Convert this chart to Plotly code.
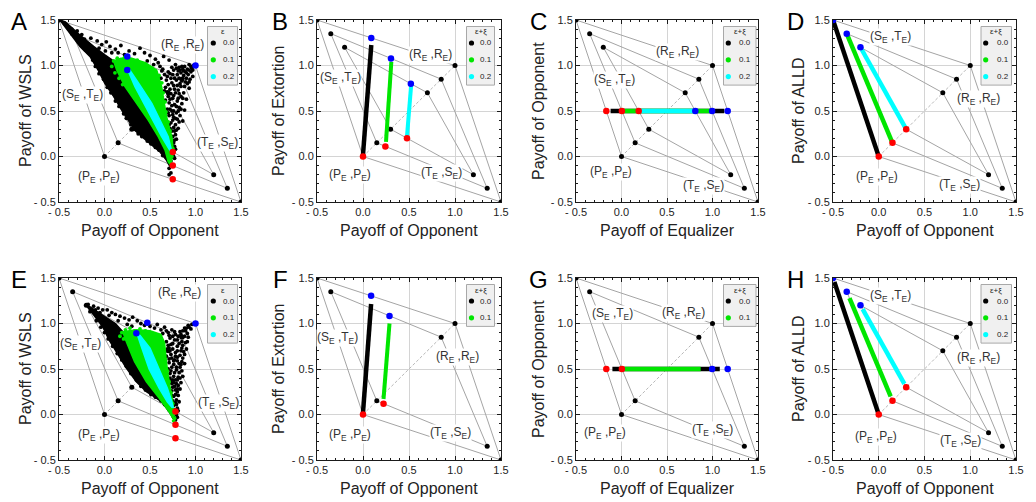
import plotly.graph_objects as go

W, H = 1036, 502
OFF = 8  # page body margin that the browser adds around the plot div
FONT = "Liberation Sans, Arial, sans-serif"

# ---------------- data ----------------
tick_vals = [-0.5, 0.0, 0.5, 1.0, 1.5]
tick_text = ["- 0.5", "0.0", "0.5", "1.0", "1.5"]

level_labels = ["0.0", "0.1", "0.2"]
level_colors = ["#000000", "#00e600", "#00ffff"]
RED = "#ff0000"
BLUE = "#0000ff"
GRAY = "#a4a4a4"

# payoff diamonds: (S,T) -> (R,R) -> (T,S) -> (P,P) for error levels 0, 0.1, 0.2
dia0_x = [-0.5, 1.0, 1.5, 0.0, -0.5]
dia0_y = [1.5, 1.0, -0.5, 0.0, 1.5]
dia1_x = [-0.35, 0.85, 1.35, 0.15, -0.35]
dia1_y = [1.35, 0.85, -0.35, 0.15, 1.35]
dia2_x = [-0.2, 0.7, 1.2, 0.3, -0.2]
dia2_y = [1.2, 0.7, -0.2, 0.3, 1.2]
diag_x = [0.0, 1.0]
diag_y = [0.0, 1.0]

panel_letters = ["A", "B", "C", "D", "E", "F", "G", "H"]
ytitles = ["Payoff of WSLS", "Payoff of Extortion", "Payoff of Opponent", "Payoff of ALLD",
           "Payoff of WSLS", "Payoff of Extortion", "Payoff of Opponent", "Payoff of ALLD"]
xtitles = ["Payoff of Opponent", "Payoff of Opponent", "Payoff of Equalizer", "Payoff of Opponent",
           "Payoff of Opponent", "Payoff of Opponent", "Payoff of Equalizer", "Payoff of Opponent"]
legend_titles = ["ε", "ε+ξ", "ε+ξ", "ε+ξ", "ε", "ε+ξ", "ε+ξ", "ε+ξ"]
n_levels = [3, 3, 3, 3, 3, 2, 2, 3]

# ----- panel A (WSLS, cloud) -----
A_black_core_x = [-0.49, -0.38, -0.27, -0.16, -0.07, 0.005, 0.10, 0.19, 0.26, 0.33, 0.43, 0.52, 0.61, 0.68, 0.72,
                  0.70, 0.665, 0.59, 0.48, 0.353, 0.225, 0.134, 0.10, 0.0, -0.12, -0.27, -0.43]
A_black_core_y = [1.50, 1.35, 1.21, 1.10, 0.95, 0.80, 0.66, 0.51, 0.40, 0.29, 0.20, 0.13, 0.05, -0.04, -0.11,
                  -0.06, 0.07, 0.218, 0.40, 0.584, 0.767, 0.95, 1.05, 1.12, 1.21, 1.335, 1.48]
A_black_pts = [
    (-0.44, 1.46), (-0.40, 1.42), (-0.36, 1.40), (-0.30, 1.38), (-0.33, 1.33), (-0.25, 1.34), (-0.22, 1.29),
    (-0.15, 1.30), (-0.08, 1.27), (-0.18, 1.24), (-0.03, 1.23), (0.02, 1.26), (0.06, 1.21), (0.12, 1.18),
    (0.18, 1.22), (0.15, 1.14), (0.22, 1.12), (0.27, 1.16), (0.33, 1.13), (0.39, 1.19), (0.44, 1.14),
    (0.50, 1.11), (0.56, 1.07), (0.47, 1.05), (0.54, 1.01), (0.61, 0.99), (0.65, 1.10), (0.71, 1.06),
    (0.63, 0.94), (0.59, 1.03), (0.08, 1.14), (0.01, 1.16), (-0.06, 1.19), (0.20, 1.06),
    (0.98, 1.0), (0.96, 0.97), (0.93, 1.01), (0.95, 0.93), (0.91, 0.96), (0.88, 0.99), (0.92, 0.90),
    (0.89, 0.93), (0.86, 0.96), (0.97, 0.88), (0.94, 0.85), (0.90, 0.86), (0.87, 0.89), (0.84, 0.92),
    (0.82, 0.98), (0.78, 1.01), (0.80, 0.90), (0.85, 0.83), (0.91, 0.80), (0.88, 0.77), (0.83, 0.80),
    (0.79, 0.84), (0.75, 0.90), (0.73, 0.86), (0.70, 0.93), (0.68, 0.84), (0.76, 0.78), (0.81, 0.73),
    (0.87, 0.70), (0.84, 0.66), (0.78, 0.70), (0.72, 0.74), (0.67, 0.76), (0.70, 0.66), (0.75, 0.64),
    (0.80, 0.61), (0.85, 0.58), (0.82, 0.54), (0.77, 0.57), (0.71, 0.59), (0.67, 0.62), (0.69, 0.52),
    (0.74, 0.50), (0.79, 0.48), (0.83, 0.45), (0.80, 0.41), (0.76, 0.43), (0.71, 0.45), (0.68, 0.40),
    (0.73, 0.37), (0.78, 0.35), (0.81, 0.31), (0.77, 0.28), (0.72, 0.31), (0.70, 0.25), (0.75, 0.22),
    (0.79, 0.19), (0.76, 0.15), (0.72, 0.17), (0.74, 0.10), (0.78, 0.08), (0.75, 0.03), (0.77, -0.02),
    (0.73, -0.05), (0.71, -0.13), (0.73, -0.18), (0.71, -0.20), (0.66, 0.72), (0.64, 0.96), (0.90, 0.63),
    (0.88, 0.51), (0.86, 0.39), (0.93, 0.75), (0.62, 0.86), (0.66, 0.90),
    (0.97, 0.95), (0.95, 0.99), (0.93, 0.95), (0.90, 0.92), (0.87, 0.94), (0.85, 0.99), (0.83, 0.95),
    (0.81, 0.94), (0.79, 0.97), (0.76, 0.95), (0.74, 0.98), (0.72, 0.91), (0.69, 0.88), (0.77, 0.86),
    (0.82, 0.86), (0.86, 0.86), (0.89, 0.82), (0.93, 0.82), (0.84, 0.77), (0.80, 0.78), (0.74, 0.81),
    (0.70, 0.79), (0.69, 0.71), (0.73, 0.69), (0.77, 0.74), (0.82, 0.69), (0.86, 0.64), (0.81, 0.64),
    (0.76, 0.67), (0.72, 0.63), (0.74, 0.56), (0.79, 0.55), (0.84, 0.52), (0.81, 0.50), (0.76, 0.50),
    (0.72, 0.52), (0.70, 0.48), (0.75, 0.46), (0.78, 0.42), (0.82, 0.38), (0.75, 0.40), (0.71, 0.35),
    (0.76, 0.32), (0.79, 0.29), (0.74, 0.28), (0.78, 0.24), (0.73, 0.22), (0.77, 0.18), (0.74, 0.14),
    (0.77, 0.11), (0.73, 0.06), (0.76, 0.06), (0.74, -0.01), (0.76, 0.00),
    (-0.27, 1.25), (-0.21, 1.17), (-0.13, 1.06), (-0.06, 0.91), (0.03, 0.76), (0.12, 0.61), (0.21, 0.47),
    (0.29, 0.35), (0.37, 0.25), (0.47, 0.17), (0.56, 0.10), (0.64, 0.01), (-0.10, 0.99), (-0.01, 0.85),
    (0.07, 0.70), (0.16, 0.55), (0.24, 0.42), (0.33, 0.30), (0.41, 0.22), (0.51, 0.14), (0.60, 0.07)]
A_green_core_x = [0.10, 0.134, 0.225, 0.353, 0.48, 0.59, 0.665, 0.70, 0.72, 0.735, 0.755, 0.74, 0.69, 0.657,
                  0.628, 0.573, 0.45, 0.30, 0.18]
A_green_core_y = [1.05, 0.95, 0.767, 0.584, 0.40, 0.218, 0.07, -0.06, -0.08, -0.06, 0.07, 0.218, 0.40, 0.584,
                  0.767, 0.95, 1.03, 1.08, 1.08]
A_green_pts = [
    (0.10, 1.05), (0.14, 1.08), (0.18, 1.06), (0.22, 1.09), (0.27, 1.07), (0.31, 1.04), (0.36, 1.06),
    (0.42, 1.01), (0.47, 0.99), (0.52, 0.97), (0.56, 0.93), (0.60, 0.89), (0.63, 0.81), (0.645, 0.70),
    (0.665, 0.60), (0.675, 0.49), (0.70, 0.38), (0.72, 0.28), (0.735, 0.18), (0.75, 0.09), (0.74, 0.0),
    (0.725, -0.07), (0.08, 0.99), (0.115, 0.92), (0.16, 0.86), (0.20, 0.79)]
A_cyan_core_x = [0.255, 0.275, 0.40, 0.52, 0.61, 0.70, 0.735, 0.72, 0.628, 0.529, 0.427, 0.335]
A_cyan_core_y = [0.95, 0.955, 0.767, 0.584, 0.40, 0.218, 0.07, 0.065, 0.218, 0.40, 0.584, 0.767]
A_red_x = [0.75, 0.75, 0.75]
A_red_y = [0.05, -0.10, -0.25]
A_blue_x = [1.0, 0.25, 0.25]
A_blue_y = [1.0, 1.10, 0.95]

# ----- panel E (WSLS, cloud) -----
E_black_core_x = [-0.20, -0.13, -0.02, 0.05, 0.15, 0.24, 0.35, 0.46, 0.57, 0.68, 0.73, 0.77,
                  0.75, 0.71, 0.60, 0.46, 0.33, 0.24, 0.20, 0.12, 0.02, -0.08, -0.17]
E_black_core_y = [1.20, 1.11, 0.965, 0.82, 0.65, 0.51, 0.36, 0.25, 0.18, 0.10, 0.0, -0.06,
                  -0.04, 0.03, 0.18, 0.36, 0.58, 0.80, 0.91, 1.0, 1.07, 1.13, 1.19]
E_black_pts = [
    (-0.18, 1.21), (-0.12, 1.19), (-0.07, 1.17), (-0.02, 1.15), (0.03, 1.15), (0.08, 1.12), (0.12, 1.10),
    (0.17, 1.08), (0.22, 1.06), (0.27, 1.04), (0.31, 1.07), (0.36, 1.03), (0.40, 1.00), (0.25, 0.99),
    (0.30, 0.97), (0.44, 0.98), (0.15, 1.03), (-0.10, 1.15), (-0.05, 1.12), (0.05, 1.09),
    (0.50, 0.97), (0.55, 0.95), (0.58, 0.99), (0.62, 0.93), (0.66, 0.96), (0.70, 0.90), (0.74, 0.93),
    (0.78, 0.88), (0.83, 0.91), (0.88, 0.95), (0.92, 0.98), (0.95, 0.94), (0.91, 0.89), (0.86, 0.85),
    (0.80, 0.82), (0.72, 0.84), (0.68, 0.80), (0.96, 0.99), (0.89, 0.92),
    (0.70, 0.76), (0.75, 0.78), (0.80, 0.75), (0.86, 0.76), (0.90, 0.72), (0.84, 0.70), (0.78, 0.68),
    (0.72, 0.70), (0.74, 0.62), (0.80, 0.63), (0.86, 0.62), (0.88, 0.56), (0.82, 0.56), (0.76, 0.55),
    (0.71, 0.57), (0.73, 0.48), (0.79, 0.49), (0.85, 0.48), (0.86, 0.42), (0.81, 0.41), (0.76, 0.42),
    (0.72, 0.40), (0.74, 0.34), (0.79, 0.34), (0.84, 0.35), (0.83, 0.28), (0.78, 0.27), (0.74, 0.26),
    (0.76, 0.20), (0.81, 0.21), (0.82, 0.14), (0.78, 0.13), (0.75, 0.15), (0.80, 0.07), (0.77, 0.05),
    (0.79, 0.00), (0.76, -0.03), (0.78, -0.06), (0.69, 0.72), (0.68, 0.64), (0.70, 0.50), (0.88, 0.66),
    (0.91, 0.80), (0.83, 0.52), (0.77, 0.60), (0.80, 0.38), (0.77, 0.31), (0.80, 0.25), (0.75, 0.38),
    (0.93, 0.96), (0.90, 0.95), (0.86, 0.92), (0.84, 0.88), (0.81, 0.86), (0.77, 0.91), (0.75, 0.86),
    (0.71, 0.87), (0.68, 0.92), (0.64, 0.89), (0.88, 0.86), (0.92, 0.85), (0.89, 0.79), (0.85, 0.80),
    (0.82, 0.78), (0.77, 0.82), (0.73, 0.77), (0.71, 0.73), (0.75, 0.72), (0.80, 0.70), (0.85, 0.73),
    (0.87, 0.69), (0.83, 0.65), (0.78, 0.64), (0.73, 0.66), (0.71, 0.61), (0.76, 0.59), (0.80, 0.59),
    (0.85, 0.58), (0.84, 0.55), (0.79, 0.52), (0.74, 0.52), (0.72, 0.45), (0.77, 0.46), (0.82, 0.46),
    (0.83, 0.40), (0.78, 0.38), (0.73, 0.37), (0.76, 0.35), (0.81, 0.32), (0.75, 0.30), (0.80, 0.28),
    (0.78, 0.22), (0.74, 0.21), (0.79, 0.16), (0.76, 0.10), (0.79, 0.11), (0.81, 0.04), (0.77, 0.01),
    (0.80, -0.03),
    (-0.16, 1.13), (-0.09, 1.03), (0.00, 0.90), (0.09, 0.75), (0.19, 0.60), (0.29, 0.45), (0.40, 0.31),
    (0.51, 0.22), (0.62, 0.15), (0.71, 0.05), (-0.04, 0.96), (0.04, 0.83), (0.14, 0.67), (0.24, 0.53),
    (0.35, 0.38), (0.45, 0.27), (0.56, 0.19), (0.66, 0.11)]
E_green_core_x = [0.20, 0.24, 0.33, 0.46, 0.60, 0.71, 0.75, 0.77, 0.75, 0.71, 0.68, 0.66, 0.62, 0.50, 0.35, 0.25]
E_green_core_y = [0.91, 0.80, 0.58, 0.36, 0.18, 0.03, -0.04, 0.0, 0.14, 0.36, 0.58, 0.79, 0.88, 0.92, 0.93, 0.92]
E_green_pts = [
    (0.19, 0.90), (0.23, 0.93), (0.28, 0.95), (0.33, 0.92), (0.39, 0.94), (0.45, 0.92), (0.50, 0.90),
    (0.55, 0.88), (0.60, 0.86), (0.635, 0.80), (0.655, 0.70), (0.67, 0.60), (0.69, 0.48), (0.71, 0.36),
    (0.73, 0.24), (0.75, 0.12), (0.765, 0.02), (0.77, -0.04), (0.76, -0.07), (0.17, 0.86), (0.21, 0.83)]
E_cyan_core_x = [0.36, 0.39, 0.50, 0.60, 0.69, 0.74, 0.755, 0.74, 0.69, 0.60, 0.49, 0.41]
E_cyan_core_y = [0.88, 0.87, 0.73, 0.50, 0.29, 0.14, 0.08, 0.08, 0.14, 0.29, 0.50, 0.73]
E_red_x = [0.78, 0.78, 0.78]
E_red_y = [0.033, -0.112, -0.26]
E_blue_x = [1.0, 0.47, 0.35]
E_blue_y = [1.0, 1.008, 0.894]

# ----- panels B / F (Extortion) -----
B_black_x, B_black_y = [0.0, 0.09], [0.02, 1.225]
B_green_x, B_green_y = [0.25, 0.308], [0.16, 1.04]
B_cyan_x, B_cyan_y = [0.478, 0.523], [0.22, 0.78]
B_red_x, B_red_y = [0.0, 0.243, 0.478], [0.0, 0.111, 0.201]
B_blue_x, B_blue_y = [0.09, 0.304, 0.52], [1.303, 1.077, 0.80]

F_black_x, F_black_y = [0.0, 0.088], [0.02, 1.214]
F_green_x, F_green_y = [0.223, 0.288], [0.17, 1.0]
F_red_x, F_red_y = [0.0, 0.223], [0.0, 0.118]
F_blue_x, F_blue_y = [0.088, 0.288], [1.304, 1.083]

# ----- panels C / G (Equalizer) -----
C_black_x, C_black_y = [-0.12, 1.13], [0.5, 0.5]
C_green_x, C_green_y = [0.02, 0.99], [0.5, 0.5]
C_cyan_x, C_cyan_y = [0.2, 0.81], [0.5, 0.5]
C_red_x, C_red_y = [-0.167, 0.004, 0.189], [0.5, 0.5, 0.5]
C_blue_x, C_blue_y = [0.811, 0.996, 1.167], [0.5, 0.5, 0.5]

G_black_x, G_black_y = [-0.10, 1.08], [0.5, 0.5]
G_green_x, G_green_y = [0.03, 0.87], [0.5, 0.5]
G_red_x, G_red_y = [-0.167, 0.004], [0.5, 0.5]
G_blue_x, G_blue_y = [0.996, 1.167], [0.5, 0.5]

# ----- panels D / H (ALLD) -----
D_black_x, D_black_y = [-0.5, 0.0], [1.5, 0.0]
D_green_x, D_green_y = [-0.34, 0.145], [1.326, 0.162]
D_cyan_x, D_cyan_y = [-0.185, 0.298], [1.173, 0.304]
D_red_x, D_red_y = [0.0, 0.15, 0.3], [0.0, 0.15, 0.3]
D_blue_x, D_blue_y = [-0.5, -0.35, -0.2], [1.5, 1.35, 1.2]

H_black_x, H_black_y = [-0.485, 0.0], [1.455, 0.0]
H_green_x, H_green_y = [-0.32, 0.13], [1.278, 0.198]
H_cyan_x, H_cyan_y = [-0.176, 0.28], [1.157, 0.336]
H_red_x, H_red_y = [0.0, 0.15, 0.3], [0.0, 0.15, 0.3]
H_blue_x, H_blue_y = [-0.5, -0.35, -0.2], [1.5, 1.35, 1.2]

# vertex labels (panel -> (key, x, y))
label_text = {
    "RR": "(R<sub>E</sub> ,R<sub>E</sub>)",
    "ST": "(S<sub>E</sub> ,T<sub>E</sub>)",
    "TS": "(T<sub>E</sub> ,S<sub>E</sub>)",
    "PP": "(P<sub>E</sub> ,P<sub>E</sub>)",
}
panel_labels = [
    [("RR", 0.86, 1.23), ("ST", -0.24, 0.68), ("TS", 1.246, 0.145), ("PP", -0.055, -0.224)],
    [("RR", 0.73, 1.12), ("ST", -0.246, 0.866), ("PP", -0.138, -0.20), ("TS", 0.848, -0.183)],
    [("RR", 0.613, 1.144), ("ST", -0.073, 0.84), ("PP", -0.117, -0.17), ("TS", 0.905, -0.324)],
    [("ST", 0.123, 1.31), ("RR", 1.092, 0.63), ("PP", -0.015, -0.225), ("TS", 0.884, -0.31)],
    [("RR", 0.82, 1.335), ("ST", -0.26, 0.773), ("TS", 1.254, 0.124), ("PP", -0.055, -0.225)],
    [("ST", -0.277, 0.84), ("RR", 1.03, 0.628), ("PP", -0.146, -0.225), ("TS", 0.95, -0.207)],
    [("ST", -0.095, 1.104), ("RR", 0.679, 1.11), ("PP", -0.186, -0.205), ("TS", 1.0, -0.165)],
    [("ST", 0.123, 1.306), ("RR", 1.092, 0.624), ("PP", -0.026, -0.25), ("TS", 0.888, -0.296)],
]

# ---------------- layout geometry (screen pixels) ----------------
col_px = [(59, 241), (317, 501), (576, 758), (833, 1016)]
row_px = [(20, 202), (278, 460)]
ytitle_x = [25, 278, 538, 798]
letter_x = [19, 280, 538, 795]
legend_box_x = [(207.5, 237.5), (466.5, 494.5), (723.5, 756), (981, 1011.5)]
legend_dot_x = [213.3, 471.5, 728.3, 985.7]
legend_txt_x = [228.5, 486, 745, 1003]


def fx(px):
    return (px - OFF) / W


def fy(py):
    return 1 - (py - OFF) / H


def axes_of(n):
    return ("x" if n == 1 else f"x{n}"), ("y" if n == 1 else f"y{n}")


fig = go.Figure()


def add_line(n, xs, ys, color, width, dash="solid"):
    xa, ya = axes_of(n)
    fig.add_trace(go.Scatter(x=xs, y=ys, mode="lines", line=dict(color=color, width=width, dash=dash),
                             xaxis=xa, yaxis=ya, hoverinfo="skip", showlegend=False))


def add_pts(n, xs, ys, color, size):
    xa, ya = axes_of(n)
    fig.add_trace(go.Scatter(x=xs, y=ys, mode="markers", marker=dict(color=color, size=size, line=dict(width=0)),
                             xaxis=xa, yaxis=ya, hoverinfo="skip", showlegend=False))


def add_cloud(n, pts, color, size=3.8):
    add_pts(n, [p[0] for p in pts], [p[1] for p in pts], color, size)


def add_poly(n, xs, ys, color):
    xa, ya = axes_of(n)
    fig.add_trace(go.Scatter(x=xs + xs[:1], y=ys + ys[:1], mode="lines", fill="toself", fillcolor=color,
                             line=dict(color=color, width=1.5), xaxis=xa, yaxis=ya,
                             hoverinfo="skip", showlegend=False))


dias = [(dia0_x, dia0_y), (dia1_x, dia1_y), (dia2_x, dia2_y)]

# base geometry for every panel
for n in range(1, 9):
    k = n_levels[n - 1]
    for dx, dy in dias[:k]:
        add_line(n, dx, dy, GRAY, 1)
    add_line(n, diag_x, diag_y, "#b8b8b8", 1, "3px,2px")
    for dx, dy in dias[:k]:
        add_pts(n, dx[:4], dy[:4], "#000000", 5)

BLK, GRN, CYN = level_colors

# A
add_poly(1, A_black_core_x, A_black_core_y, BLK)
add_cloud(1, A_black_pts, BLK)
add_poly(1, A_green_core_x, A_green_core_y, GRN)
add_cloud(1, A_green_pts, GRN)
add_poly(1, A_cyan_core_x, A_cyan_core_y, CYN)
add_pts(1, A_red_x, A_red_y, RED, 6.5)
add_pts(1, A_blue_x, A_blue_y, BLUE, 6.5)
# E
add_poly(5, E_black_core_x, E_black_core_y, BLK)
add_cloud(5, E_black_pts, BLK)
add_poly(5, E_green_core_x, E_green_core_y, GRN)
add_cloud(5, E_green_pts, GRN)
add_poly(5, E_cyan_core_x, E_cyan_core_y, CYN)
add_pts(5, E_red_x, E_red_y, RED, 6.5)
add_pts(5, E_blue_x, E_blue_y, BLUE, 6.5)
# B
add_line(2, B_black_x, B_black_y, BLK, 4.5)
add_line(2, B_green_x, B_green_y, GRN, 4)
add_line(2, B_cyan_x, B_cyan_y, CYN, 4)
add_pts(2, B_red_x, B_red_y, RED, 6.5)
add_pts(2, B_blue_x, B_blue_y, BLUE, 6.5)
# F
add_line(6, F_black_x, F_black_y, BLK, 4.5)
add_line(6, F_green_x, F_green_y, GRN, 4)
add_pts(6, F_red_x, F_red_y, RED, 6.5)
add_pts(6, F_blue_x, F_blue_y, BLUE, 6.5)
# C
add_line(3, C_black_x, C_black_y, BLK, 4.5)
add_line(3, C_green_x, C_green_y, GRN, 4.5)
add_line(3, C_cyan_x, C_cyan_y, CYN, 4.5)
add_pts(3, C_red_x, C_red_y, RED, 6.5)
add_pts(3, C_blue_x, C_blue_y, BLUE, 6.5)
# G
add_line(7, G_black_x, G_black_y, BLK, 4.5)
add_line(7, G_green_x, G_green_y, GRN, 4.5)
add_pts(7, G_red_x, G_red_y, RED, 6.5)
add_pts(7, G_blue_x, G_blue_y, BLUE, 6.5)
# D
add_line(4, D_black_x, D_black_y, BLK, 4.5)
add_line(4, D_green_x, D_green_y, GRN, 4.5)
add_line(4, D_cyan_x, D_cyan_y, CYN, 4.5)
add_pts(4, D_red_x, D_red_y, RED, 6.5)
add_pts(4, D_blue_x, D_blue_y, BLUE, 6.5)
# H
add_line(8, H_black_x, H_black_y, BLK, 4.5)
add_line(8, H_green_x, H_green_y, GRN, 4.5)
add_line(8, H_cyan_x, H_cyan_y, CYN, 4.5)
add_pts(8, H_red_x, H_red_y, RED, 6.5)
add_pts(8, H_blue_x, H_blue_y, BLUE, 6.5)

# ---------------- axes ----------------
axis_common = dict(
    range=[-0.5, 1.5], autorange=False, automargin=False,
    tickmode="array", tickvals=tick_vals, ticktext=tick_text,
    showgrid=True, gridcolor="#d4d4d4", gridwidth=1, zeroline=False,
    showline=True, linecolor="#1a1a1a", linewidth=1, mirror="ticks",
    ticks="inside", ticklen=4, tickcolor="#1a1a1a", tickwidth=1,
    tickfont=dict(family=FONT, size=11, color="#222222"),
    minor=dict(tickmode="linear", tick0=0, dtick=0.1, ticks="inside", ticklen=2,
               tickcolor="#1a1a1a", showgrid=False),
    fixedrange=True,
)

layout_axes = {}
annotations = []
shapes = []
for n in range(1, 9):
    r, c = divmod(n - 1, 4)
    L, R = col_px[c]
    T, B = row_px[r]
    xa, ya = axes_of(n)
    layout_axes["xaxis" if n == 1 else f"xaxis{n}"] = dict(domain=[fx(L), fx(R)], anchor=ya, **axis_common)
    layout_axes["yaxis" if n == 1 else f"yaxis{n}"] = dict(domain=[fy(B), fy(T)], anchor=xa, **axis_common)

    # axis titles
    annotations.append(dict(text=xtitles[n - 1], xref="paper", yref="paper", x=fx((L + R) / 2), y=fy(B + 28),
                            showarrow=False, xanchor="center", yanchor="middle",
                            font=dict(family=FONT, size=16, color="#222222")))
    annotations.append(dict(text=ytitles[n - 1], xref="paper", yref="paper", x=fx(ytitle_x[c]), y=fy((T + B) / 2),
                            showarrow=False, textangle=-90, xanchor="center", yanchor="middle",
                            font=dict(family=FONT, size=16, color="#222222")))
    # panel letter
    annotations.append(dict(text=panel_letters[n - 1], xref="paper", yref="paper", x=fx(letter_x[c]),
                            y=fy(T + 1.5), showarrow=False, xanchor="center", yanchor="middle",
                            font=dict(family=FONT, size=24, color="#000000")))
    # vertex labels
    for key, lx, ly in panel_labels[n - 1]:
        annotations.append(dict(text=label_text[key], xref=xa, yref=ya, x=lx, y=ly, showarrow=False,
                                xanchor="center", yanchor="middle", bgcolor="#ffffff", borderpad=0,
                                font=dict(family=FONT, size=12, color="#333333")))
    # legend box
    k = n_levels[n - 1]
    bx0, bx1 = legend_box_x[c]
    by0 = T + 6.5
    by1 = T + 15 + 16.7 * k
    shapes.append(dict(type="rect", xref="paper", yref="paper", x0=fx(bx0), x1=fx(bx1), y0=fy(by1), y1=fy(by0),
                       fillcolor="#f0f0f0", line=dict(color="#a8a8a8", width=1), layer="above"))
    annotations.append(dict(text=legend_titles[n - 1], xref="paper", yref="paper", x=fx((bx0 + bx1) / 2),
                            y=fy(T + 12), showarrow=False, xanchor="center", yanchor="middle",
                            font=dict(family=FONT, size=8, color="#222222")))
    for i in range(k):
        ey = T + 23 + 16.8 * i
        shapes.append(dict(type="circle", xref="paper", yref="paper", xsizemode="pixel", ysizemode="pixel",
                           xanchor=fx(legend_dot_x[c]), yanchor=fy(ey), x0=-2.6, x1=2.6, y0=-2.6, y1=2.6,
                           fillcolor=level_colors[i], line=dict(width=0), layer="above"))
        annotations.append(dict(text=level_labels[i], xref="paper", yref="paper", x=fx(legend_txt_x[c]),
                                y=fy(ey), showarrow=False, xanchor="center", yanchor="middle",
                                font=dict(family=FONT, size=8, color="#222222")))

fig.update_layout(
    template="none",
    width=W, height=H, margin=dict(l=0, r=0, t=0, b=0, autoexpand=False),
    paper_bgcolor="#ffffff", plot_bgcolor="#ffffff",
    showlegend=False, annotations=annotations, shapes=shapes,
    font=dict(family=FONT),
    **layout_axes,
)

fig.write_html("out.html")
